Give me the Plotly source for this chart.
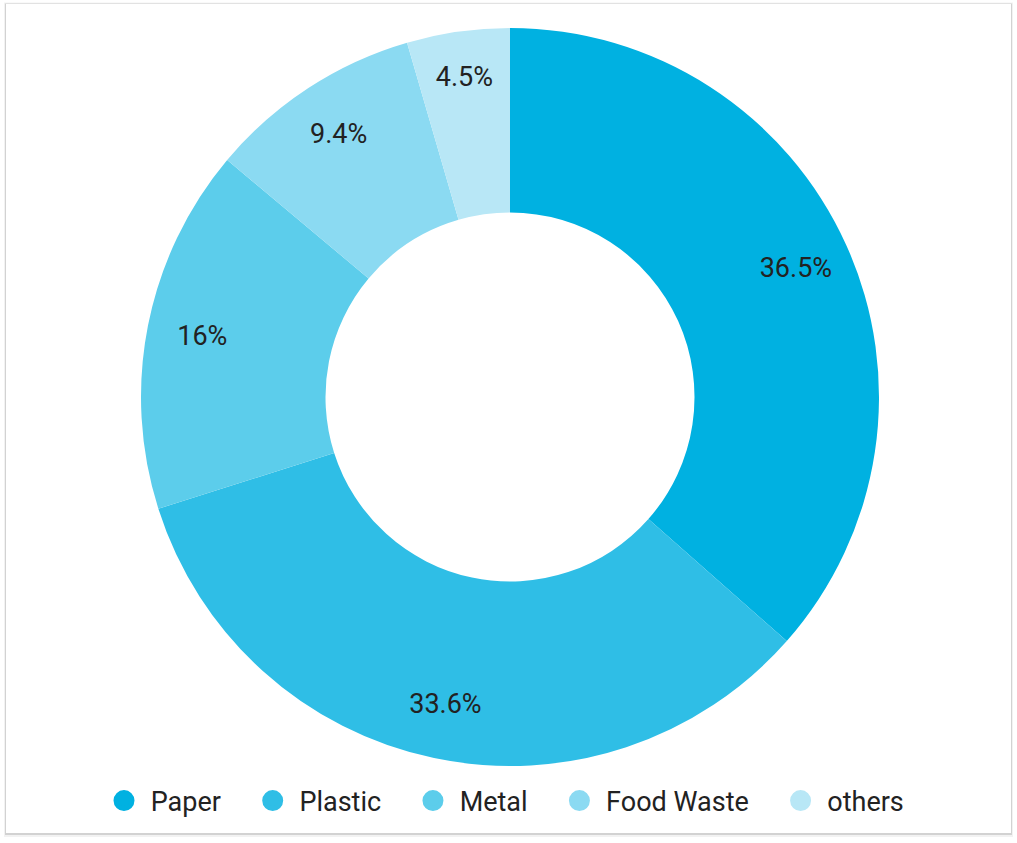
import plotly.graph_objects as go

categories = ["Paper", "Plastic", "Metal", "Food Waste", "others"]
values = [36.5, 33.6, 16, 9.4, 4.5]
colors = ["#00b1e1", "#2fbee6", "#5ccdeb", "#8bdaf2", "#b8e7f6"]

W, H = 1017, 843


def px(x):
    return x / W


def py(y):
    return 1 - y / H


dom_x = [px(141), px(879)]
dom_y = [py(766), py(28)]

fig = go.Figure()

# visible donut
fig.add_trace(go.Pie(
    labels=categories, values=values, sort=False, direction="clockwise",
    rotation=0, hole=0.5, marker=dict(colors=colors, line=dict(width=0)),
    textinfo="none", showlegend=False, domain=dict(x=dom_x, y=dom_y),
    hoverinfo="label+percent",
))
# label layer (transparent ring, places text toward the outer edge)
fig.add_trace(go.Pie(
    labels=categories, values=values, sort=False, direction="clockwise",
    rotation=0, hole=0.7,
    marker=dict(colors=["rgba(0,0,0,0)"] * len(values), line=dict(width=0)),
    text=[f"{v:g}%" for v in values], texttemplate="%{text}",
    textposition="inside", insidetextorientation="horizontal",
    textfont=dict(family="Roboto", size=27, color="#222222"),
    showlegend=False, domain=dict(x=dom_x, y=dom_y), hoverinfo="skip",
))

# legend entries with round markers
pad_l = "\u00a0"
pad_r = "\u00a0" * 4
for name, c in zip(categories, colors):
    fig.add_trace(go.Scatter(
        x=[None], y=[None], mode="markers", name=pad_l + name + pad_r,
        marker=dict(symbol="circle", size=16, color=c, line=dict(color=c, width=10)),
    ))

shapes = [
    dict(type="rect", xref="paper", yref="paper", layer="below",
         x0=px(4), x1=px(1013), y0=py(837), y1=py(2.5),
         fillcolor="rgba(0,0,0,0.05)", line=dict(width=0)),
    dict(type="rect", xref="paper", yref="paper", layer="below",
         x0=px(5), x1=px(1012), y0=py(835), y1=py(3.5),
         fillcolor="rgba(0,0,0,0.13)", line=dict(width=0)),
    dict(type="rect", xref="paper", yref="paper", layer="below",
         x0=px(6), x1=px(1011), y0=py(833), y1=py(4),
         fillcolor="#ffffff", line=dict(width=0)),
]

fig.update_layout(
    width=W, height=H, margin=dict(l=0, r=0, t=0, b=0),
    paper_bgcolor="#ffffff", plot_bgcolor="rgba(0,0,0,0)",
    font=dict(family="Roboto", color="#222222"),
    xaxis=dict(visible=False), yaxis=dict(visible=False),
    shapes=shapes,
    legend=dict(orientation="h", x=px(520), xanchor="center", y=py(801), yanchor="middle",
                font=dict(family="Roboto", size=27, color="#222222"),
                bgcolor="rgba(0,0,0,0)", itemsizing="trace"),
)

fig.write_html("out.html", config={"displayModeBar": False},
               post_script="document.body.style.margin='0';document.body.style.overflow='hidden';")
